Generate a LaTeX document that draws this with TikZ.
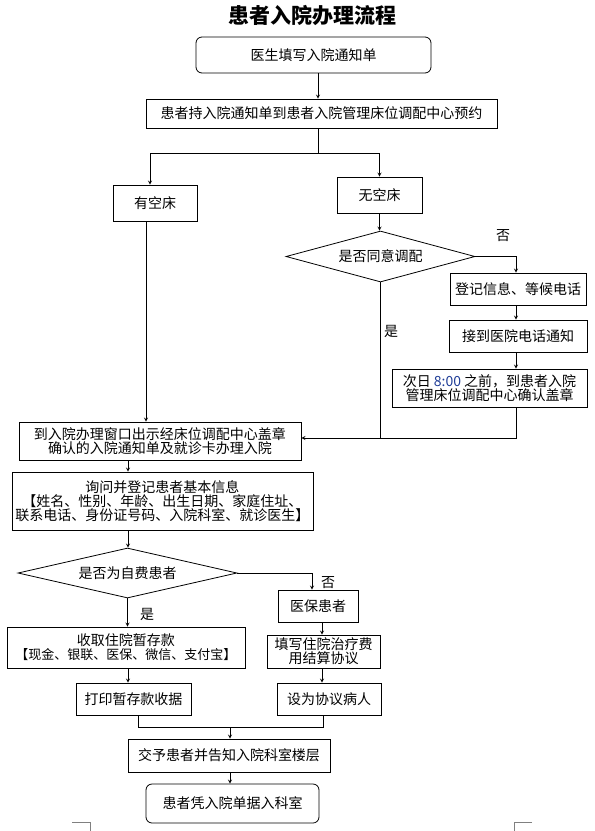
\documentclass[tikz,border=0pt]{standalone}
\usepackage{fontspec}
\setmainfont{Noto Sans CJK SC}
\usetikzlibrary{shapes, arrows, positioning}
\definecolor{timeblue}{RGB}{30,60,150}
\tikzstyle{startstop} = [rectangle, rounded corners=6pt, draw=black, line width=0.8pt, align=center, inner sep=0pt]
\tikzstyle{process} = [rectangle, draw=black, line width=0.8pt, align=center, inner sep=0pt]
\tikzstyle{decision} = [diamond, draw=black, line width=0.8pt, align=center, inner sep=0pt]
\tikzstyle{arrow} = [line width=0.8pt,->,>=stealth]
\tikzstyle{wire} = [line width=0.8pt]

\begin{document}
\begin{tikzpicture}[x=1pt, y=-1pt, every node/.style={font=\fontsize{14}{14}\selectfont}]

\useasboundingbox (0,0) rectangle (595,831);

% Nodes
\node (title) at (312,15) [font=\fontsize{21}{21}\selectfont\bfseries] {患者入院办理流程};
\node (start) at (313.5,55) [startstop, minimum width=235pt, minimum height=36pt] {医生填写入院通知单};
\node (book) at (321.5,113.5) [process, minimum width=351pt, minimum height=29pt] {患者持入院通知单到患者入院管理床位调配中心预约};
\node (free) at (155,203) [process, minimum width=84pt, minimum height=36pt] {有空床};
\node (full) at (379.5,195) [process, minimum width=85pt, minimum height=36pt] {无空床};
\node (agree) at (380.5,256.5) [decision, aspect=3.7, minimum width=189pt, minimum height=51pt] {是否同意调配};
\node (wait) at (518,289) [process, minimum width=136pt, minimum height=32pt] {登记信息、等候电话};
\node (call) at (518,336) [process, minimum width=138pt, minimum height=32pt] {接到医院电话通知};
\node (confirm) at (489.5,388) [process, minimum width=195pt, minimum height=38pt] {次日 \textcolor{timeblue}{8:00} 之前，到患者入院\\管理床位调配中心确认盖章};
\node (window) at (160,441) [process, minimum width=282pt, minimum height=38pt] {到入院办理窗口出示经床位调配中心盖章\\确认的入院通知单及就诊卡办理入院};
\node (reg) at (162.5,501) [process, minimum width=301pt, minimum height=58pt] {询问并登记患者基本信息\\【姓名、性别、年龄、出生日期、家庭住址、\\联系电话、身份证号码、入院科室、就诊医生】};
\node (self) at (127.5,573) [decision, aspect=4.4, minimum width=219pt, minimum height=50pt] {是否为自费患者};
\node (insured) at (318,606) [process, minimum width=80pt, minimum height=32pt] {医保患者};
\node (deposit) at (126,647.5) [process, minimum width=238pt, minimum height=41pt] {收取住院暂存款\\{\fontsize{13}{14}\selectfont【现金、银联、医保、微信、支付宝】}};
\node (agreement) at (323.5,651.5) [process, minimum width=113pt, minimum height=33pt] {填写住院治疗费\\用结算协议};
\node (receipt) at (133.5,699) [process, minimum width=115pt, minimum height=32pt] {打印暂存款收据};
\node (contract) at (329,699) [process, minimum width=104pt, minimum height=32pt] {设为协议病人};
\node (tell) at (229,755.5) [process, minimum width=202pt, minimum height=33pt] {交予患者并告知入院科室楼层};
\node (enter) at (232.5,803.5) [startstop, minimum width=173pt, minimum height=39pt] {患者凭入院单据入科室};

% Labels
\node (no1) at (503,236) {否};
\node (yes1) at (391,331) {是};
\node (no2) at (328,583) {否};
\node (yes2) at (147,614) {是};

% Turning points
\coordinate (split) at (318,153);
\coordinate (leftx) at (150,0);
\coordinate (freex) at (146,0);
\coordinate (rightx) at (516,0);
\coordinate (merge) at (381,438);
\coordinate (midx) at (128,0);
\coordinate (turn) at (312,0);
\coordinate (insx) at (322,0);
\coordinate (recx) at (138,0);
\coordinate (conx) at (323,0);
\coordinate (join) at (230,727);

% Arrows
\draw [arrow] (start.south -| split) -- (book.north -| split);
\draw [wire] (book.south -| split) -- (split);
\draw [arrow] (split) -| (free.north -| leftx);
\draw [arrow] (split) -| (full.north);
\draw [arrow] (full.south) -- (full.south |- agree.north);
\draw [arrow] (agree.east) -| (wait.north -| rightx);
\draw [arrow] (wait.south -| rightx) -- (call.north -| rightx);
\draw [arrow] (call.south -| rightx) -- (confirm.north -| rightx);
\draw [wire] (confirm.south -| rightx) |- (merge);
\draw [arrow] (agree.south) -- (agree.south |- merge) -- (window.east |- merge);
\draw [arrow] (free.south -| freex) -- (window.north -| freex);
\draw [arrow] (window.south -| midx) -- (reg.north -| midx);
\draw [arrow] (reg.south -| midx) -- (self.north -| midx);
\draw [arrow] (self.east) -| (insured.north -| turn);
\draw [arrow] (self.south) -- (deposit.north -| self.south);
\draw [arrow] (insured.south -| insx) -- (agreement.north -| insx);
\draw [arrow] (deposit.south -| midx) -- (receipt.north -| midx);
\draw [arrow] (agreement.south -| insx) -- (contract.north -| insx);
\draw [wire] (receipt.south -| recx) |- (join) -| (contract.south -| conx);
\draw [arrow] (join) -- (tell.north -| join);
\draw [arrow] (tell.south -| join) -- (enter.north -| join);

% Page corner marks
\draw [gray, line width=0.6pt] (72,822) -- (90,822) -- (90,831);
\draw [gray, line width=0.6pt] (532,822) -- (514,822) -- (514,831);

\end{tikzpicture}
\end{document}
